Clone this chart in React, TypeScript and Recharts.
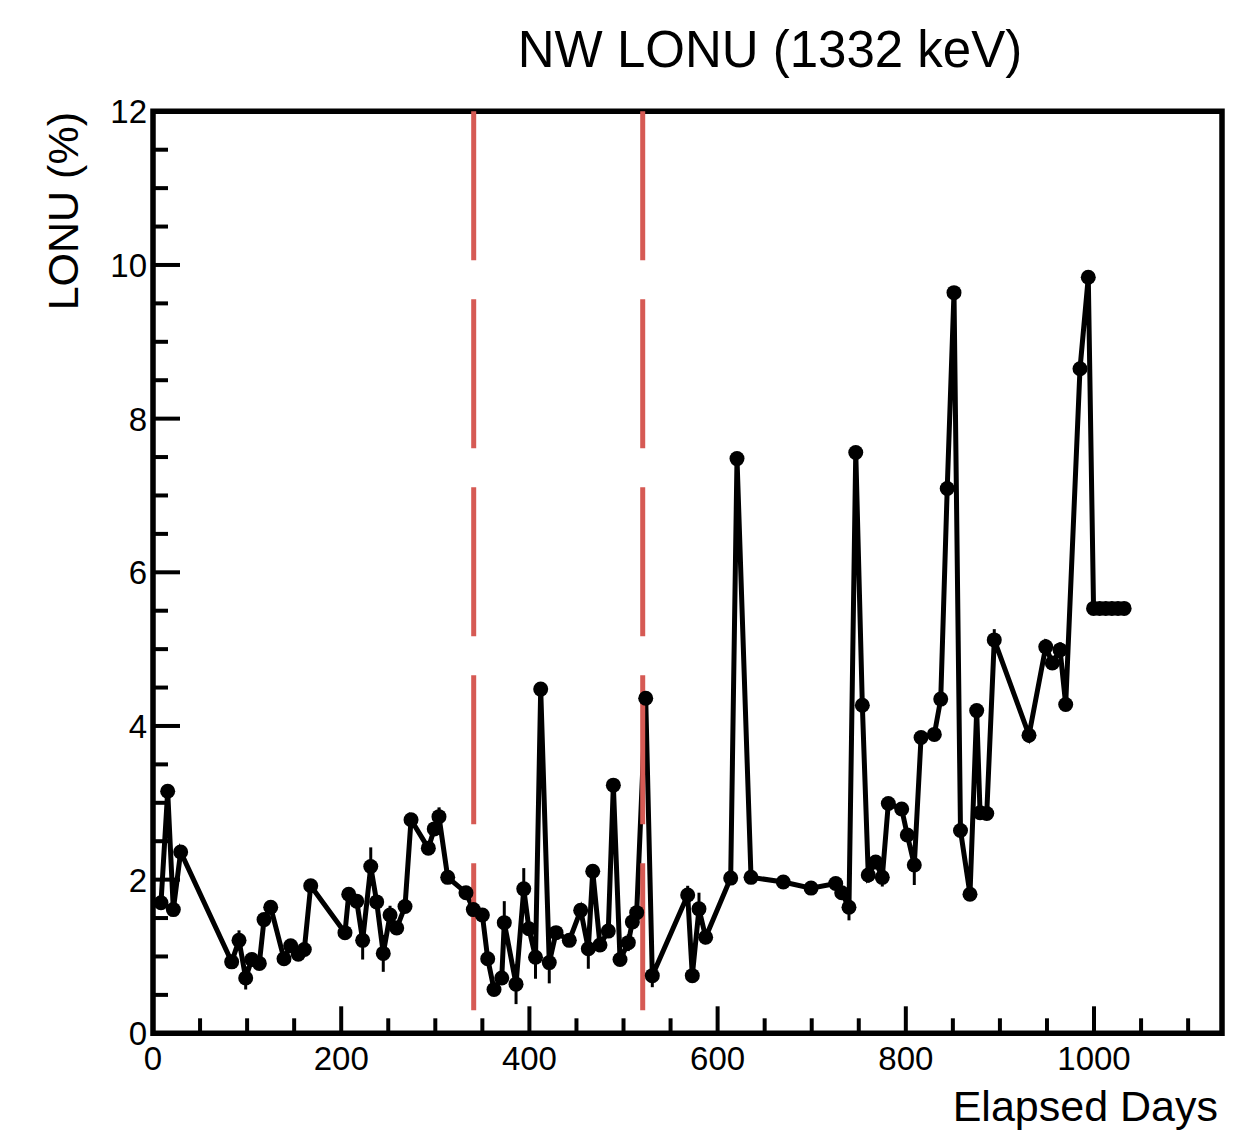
import React from 'react';
import { ComposedChart, Line, XAxis, YAxis, ErrorBar, ReferenceLine, ReferenceArea } from 'recharts';

const days = [
  8.5, 15.6, 21.6, 29.4, 83.6, 91.4, 98.5, 104.9, 113, 118, 125.1, 139.2, 146.3, 154.4, 160.8, 167.6,
  204, 208, 216.5, 222.8, 231.4, 237.7, 244.7, 251.9, 259, 267.8, 274.2, 292.6, 298.9, 303.9, 313.2,
  332.6, 340.4, 350, 355.7, 362.4, 370.6, 373.3, 385.8, 394, 399.5, 406.5, 412, 421.1, 428.3, 442.4,
  454.5, 462.6, 467.3, 475, 483.8, 489.2, 496.3, 505.1, 509.4, 514, 523.6, 530.6, 568.2, 573.1, 580.2,
  587.3, 613.9, 620.6, 635.5, 669.8, 699.3, 725.5, 731.9, 739.6, 746.8, 753.8, 760.1, 768, 775, 781.4,
  795.6, 801.6, 809, 816.2, 830.3, 837.1, 844, 851.2, 858.1, 868.2, 875.3, 878.9, 886, 894, 930.9,
  948.7, 955.7, 963.9, 969.9, 985.1, 993.9, 999.5, 1006, 1012.5, 1019, 1025.5, 1032,
];

const lonu = [
  1.70, 3.15, 1.61, 2.36, 0.93, 1.21, 0.72, 0.96, 0.91, 1.48, 1.64, 0.97, 1.14, 1.03, 1.09, 1.92,
  1.31, 1.81, 1.72, 1.21, 2.17, 1.71, 1.04, 1.54, 1.37, 1.65, 2.78, 2.41, 2.66, 2.82, 2.03,
  1.83, 1.61, 1.54, 0.97, 0.57, 0.72, 1.44, 0.64, 1.88, 1.36, 0.99, 4.48, 0.92, 1.31, 1.21,
  1.60, 1.10, 2.11, 1.15, 1.33, 3.23, 0.96, 1.18, 1.45, 1.57, 4.36, 0.75, 1.80, 0.75, 1.62,
  1.25, 2.02, 7.48, 2.03, 1.97, 1.89, 1.95, 1.83, 1.64, 7.56, 4.27, 2.06, 2.23, 2.03, 2.99,
  2.92, 2.58, 2.19, 3.85, 3.89, 4.35, 7.09, 9.64, 2.64, 1.81, 4.20, 2.87, 2.86, 5.12, 3.88,
  5.03, 4.82, 4.99, 4.28, 8.65, 9.84, 5.53, 5.53, 5.53, 5.53, 5.53, 5.53,
];

const lonuErr = [
  0.06, 0.06, 0.06, 0.06, 0.06, 0.13, 0.15, 0.06, 0.06, 0.06, 0.06, 0.06, 0.06, 0.06, 0.06, 0.06,
  0.06, 0.06, 0.06, 0.25, 0.25, 0.06, 0.24, 0.12, 0.06, 0.06, 0.06, 0.06, 0.06, 0.12, 0.06,
  0.06, 0.06, 0.06, 0.06, 0.06, 0.06, 0.28, 0.26, 0.27, 0.06, 0.28, 0.06, 0.27, 0.06, 0.06,
  0.09, 0.26, 0.06, 0.06, 0.06, 0.06, 0.06, 0.11, 0.06, 0.06, 0.06, 0.15, 0.12, 0.06, 0.21,
  0.06, 0.06, 0.06, 0.06, 0.06, 0.06, 0.06, 0.06, 0.17, 0.06, 0.06, 0.10, 0.06, 0.12, 0.06,
  0.06, 0.06, 0.26, 0.06, 0.06, 0.06, 0.06, 0.06, 0.06, 0.06, 0.06, 0.06, 0.06, 0.14, 0.10,
  0.10, 0.06, 0.10, 0.06, 0.06, 0.06, 0.05, 0.05, 0.05, 0.05, 0.05, 0.05,
];

const xTicks = [0, 50, 100, 150, 200, 250, 300, 350, 400, 450, 500, 550, 600, 650, 700, 750, 800, 850, 900, 950, 1000, 1050, 1100];
const yTicks = [0, 0.5, 1, 1.5, 2, 2.5, 3, 3.5, 4, 4.5, 5, 5.5, 6, 6.5, 7, 7.5, 8, 8.5, 9, 9.5, 10, 10.5, 11, 11.5, 12];
const markerDays = [340.8, 520.4];

const data = days.map((d, i) => ({ day: d, lonu: lonu[i], err: lonuErr[i] }));

const FONT = '"Liberation Sans", Arial, Helvetica, sans-serif';

const XTick = (props: any) => {
  const { x, y, payload } = props;
  const v = payload.value as number;
  const major = v % 200 === 0;
  return (
    <g>
      <line x1={x} x2={x} y1={y} y2={y - (major ? 27 : 15)} stroke="#000" strokeWidth={4} />
      {major && (
        <text x={x} y={y + 37} textAnchor="middle" fontSize={33} fontFamily={FONT} fill="#000">
          {v}
        </text>
      )}
    </g>
  );
};

const YTick = (props: any) => {
  const { x, y, payload } = props;
  const v = payload.value as number;
  const major = v % 2 === 0;
  return (
    <g>
      <line x1={x} x2={x + (major ? 27 : 15)} y1={y} y2={y} stroke="#000" strokeWidth={4} />
      {major && (
        <text x={x - 6} y={y + 12} textAnchor="end" fontSize={33} fontFamily={FONT} fill="#000">
          {v}
        </text>
      )}
    </g>
  );
};

export default function App() {
  return (
    <div style={{ position: 'absolute', left: 0, top: 0, width: 1250, height: 1134, background: '#fff' }}>
      <ComposedChart
        width={1250}
        height={1134}
        data={data}
        margin={{ top: 111.3, right: 28, bottom: 70.7, left: 93 }}
      >
        <XAxis
          type="number"
          dataKey="day"
          domain={[0, 1136]}
          ticks={xTicks}
          interval={0}
          allowDataOverflow
          axisLine={false}
          tickLine={false}
          tickSize={0}
          tickMargin={0}
          height={30}
          tick={<XTick />}
        />
        <YAxis
          type="number"
          domain={[0, 12]}
          ticks={yTicks}
          interval={0}
          allowDataOverflow
          axisLine={false}
          tickLine={false}
          tickSize={0}
          tickMargin={0}
          width={60}
          tick={<YTick />}
        />
        <Line
          dataKey="lonu"
          stroke="#000"
          strokeWidth={5}
          dot={{ r: 7.5, fill: '#000', stroke: 'none' }}
          activeDot={false}
          isAnimationActive={false}
        >
          <ErrorBar dataKey="err" direction="y" width={0} stroke="#000" strokeWidth={3} isAnimationActive={false} />
        </Line>
        {markerDays.map((d) => (
          <ReferenceLine
            key={d}
            segment={[{ x: d, y: 12 }, { x: d, y: 0.3 }]}
            stroke="#d65a54"
            strokeWidth={5}
            strokeDasharray="149 39"
            ifOverflow="visible"
          />
        ))}
        <ReferenceArea x1={0} x2={1136} y1={0} y2={12} fill="none" fillOpacity={0} stroke="#000" strokeWidth={5.5} ifOverflow="visible" />
      </ComposedChart>
      <svg width={1250} height={1134} style={{ position: 'absolute', left: 0, top: 0, pointerEvents: 'none' }}>
        <text x={770} y={67} textAnchor="middle" fontSize={51} fontFamily={FONT} fill="#000">
          NW LONU (1332 keV)
        </text>
        <text x={1218} y={1121} textAnchor="end" fontSize={43} fontFamily={FONT} fill="#000">
          Elapsed Days
        </text>
        <text transform="translate(78,112) rotate(-90)" textAnchor="end" fontSize={43} fontFamily={FONT} fill="#000">
          LONU (%)
        </text>
      </svg>
    </div>
  );
}
